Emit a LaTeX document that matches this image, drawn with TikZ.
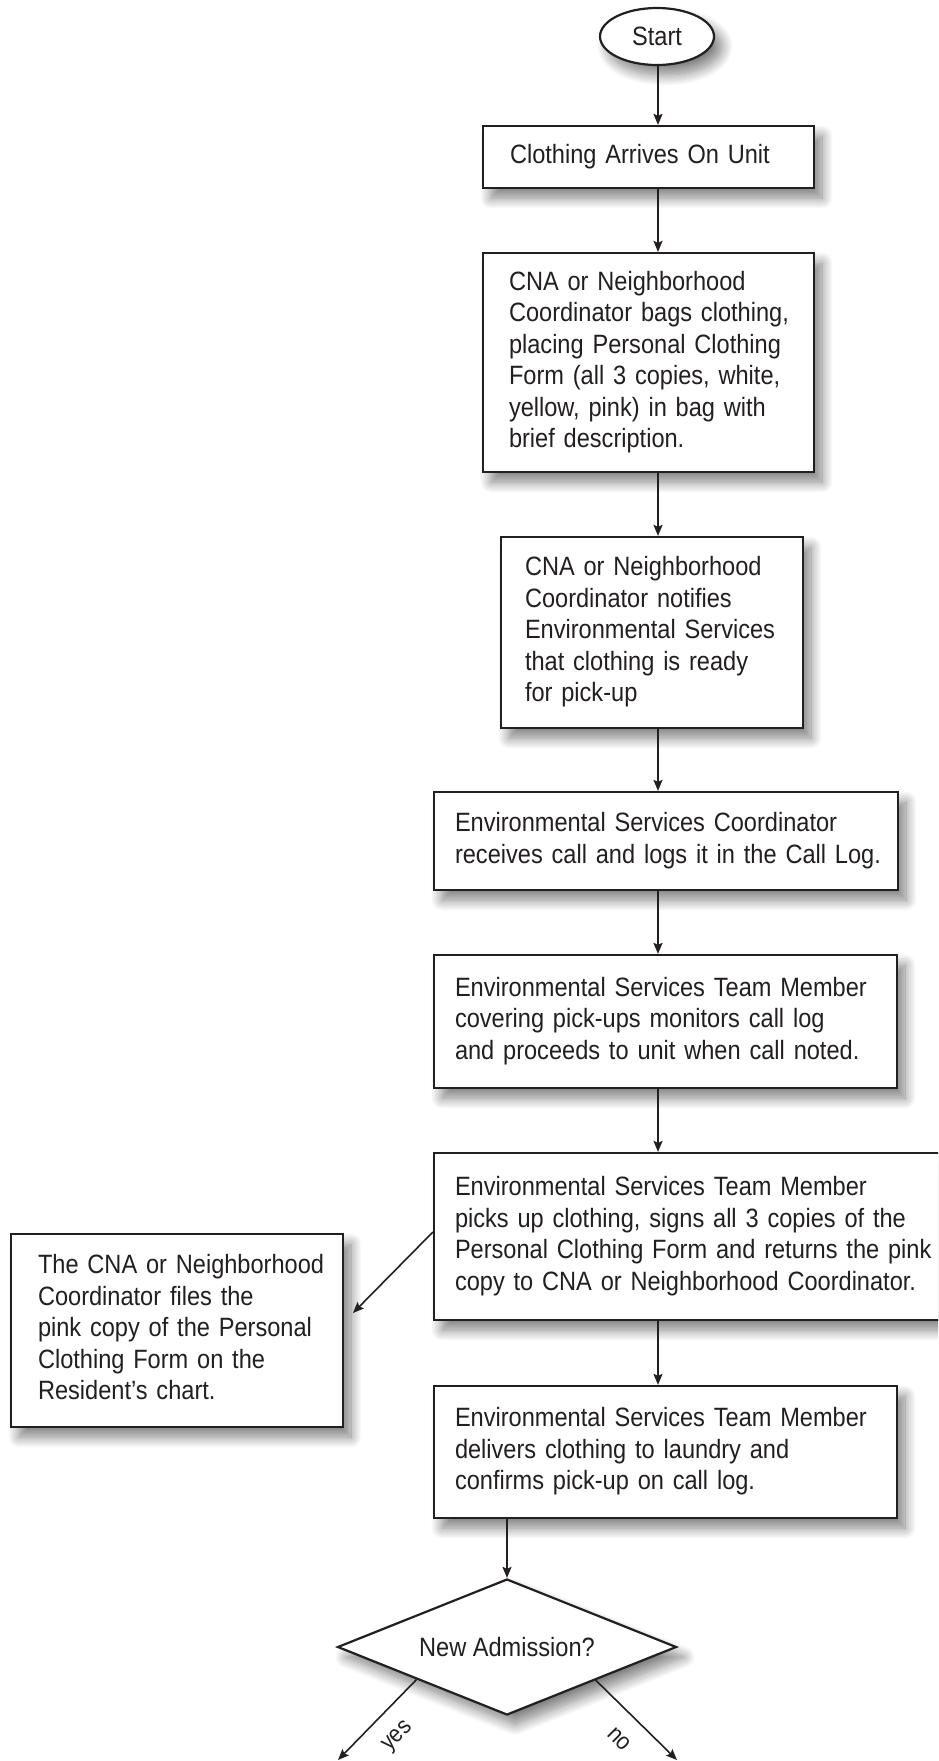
\documentclass[tikz,border=0pt]{standalone}
\usepackage{fontspec}
\setmainfont{Liberation Sans}[FakeStretch=0.89]
\usetikzlibrary{arrows.meta,shapes.geometric,shadows.blur,calc}
\definecolor{ink}{HTML}{231F20}
\newcommand{\lines}[1]{\begin{tabular}{@{}l@{}}#1\end{tabular}}
\begin{document}
\begin{tikzpicture}[x=1pt,y=-1pt,
  every node/.style={text=ink, font=\fontsize{26.5}{31.5}\selectfont},
  shad/.style={blur shadow={shadow xshift=8pt, shadow yshift=-10pt, shadow blur radius=11pt, shadow blur steps=14, shadow opacity=50}},
  procbox/.style={rectangle, draw=ink, fill=white, line width=2.2pt, inner xsep=0pt, inner ysep=0pt, align=left, shad},
  startell/.style={ellipse, draw=ink, fill=white, line width=2.2pt, minimum width=114pt, minimum height=57pt, inner sep=0pt, shad},
  decision/.style={diamond, draw=ink, fill=white, line width=2.2pt, minimum width=339pt, minimum height=136pt, inner sep=0pt, shape aspect=2.5, shad},
  arr/.style={draw=ink, line width=2pt, -{Stealth[length=11pt,width=9pt,inset=2pt]}},
  thinarr/.style={draw=ink, line width=1.6pt, -{Stealth[length=11pt,width=9pt,inset=2pt]}},
  lbl/.style={font=\fontsize{24}{26}\selectfont, inner sep=0pt}
]
\useasboundingbox (0,0) rectangle (938,1761);
\clip (0,0) rectangle (938,1761);

\node[startell] (start) at (657,36.5) {Start};
\node[procbox, minimum width=331pt, minimum height=62pt, text width=277pt] (b1) at (648.5,157) {\lines{Clothing Arrives On Unit}};
\node[procbox, minimum width=331pt, minimum height=219pt, text width=279pt] (b2) at (648.5,362.5) {\lines{CNA or Neighborhood\\Coordinator bags clothing,\\placing Personal Clothing\\Form (all 3 copies, white,\\yellow, pink) in bag with\\brief description.}};
\node[procbox, minimum width=302pt, minimum height=191pt, text width=254pt] (b3) at (652,632.5) {\lines{CNA or Neighborhood\\Coordinator notifies\\Environmental Services\\that clothing is ready\\for pick-up}};
\node[procbox, minimum width=464pt, minimum height=98pt, text width=422pt] (b4) at (666,841) {\lines{Environmental Services Coordinator\\receives call and logs it in the Call Log.}};
\node[procbox, minimum width=463pt, minimum height=133pt, text width=421pt] (b5) at (665.5,1021.5) {\lines{Environmental Services Team Member\\covering pick-ups monitors call log\\and proceeds to unit when call noted.}};
\node[procbox, minimum width=526pt, minimum height=167pt, text width=484pt] (b6) at (697,1236.5) {\lines{Environmental Services Team Member\\picks up clothing, signs all 3 copies of the\\Personal Clothing Form and returns the pink\\copy to CNA or Neighborhood Coordinator.}};
\node[procbox, minimum width=463pt, minimum height=132pt, text width=421pt] (b7) at (665.5,1452) {\lines{Environmental Services Team Member\\delivers clothing to laundry and\\confirms pick-up on call log.}};
\node[procbox, minimum width=332pt, minimum height=193pt, text width=278pt] (pinkbox) at (177,1330.5) {\lines{The CNA or Neighborhood\\Coordinator files the\\pink copy of the Personal\\Clothing Form on the\\Resident’s chart.}};
\node[decision] (dia) at (507,1647) {New Admission?};

\coordinate (spine) at (658,0);
\coordinate (pinktip) at (353,1313);
\coordinate (yesend) at (338,1760);
\coordinate (noend) at (677,1760);

\draw[arr] (start.south -| spine) -- (b1.north -| spine);
\draw[arr] (b1.south -| spine) -- (b2.north -| spine);
\draw[arr] (b2.south -| spine) -- (b3.north -| spine);
\draw[arr] (b3.south -| spine) -- (b4.north -| spine);
\draw[arr] (b4.south -| spine) -- (b5.north -| spine);
\draw[arr] (b5.south -| spine) -- (b6.north -| spine);
\draw[arr] (b6.south -| spine) -- (b7.north -| spine);
\draw[arr] (b7.south -| dia.north) -- (dia.north);
\draw[thinarr] ($(b6.west)+(0,-4.5)$) -- (pinktip);
\draw[thinarr] ($(dia.west)!0.47!(dia.south)$) -- (yesend);
\draw[thinarr] ($(dia.south)!0.52!(dia.east)$) -- (noend);

\node[lbl, rotate=45] (yes) at (398,1737) {yes};
\node[lbl, rotate=-45] (no) at (619,1739) {no};
\end{tikzpicture}
\end{document}
